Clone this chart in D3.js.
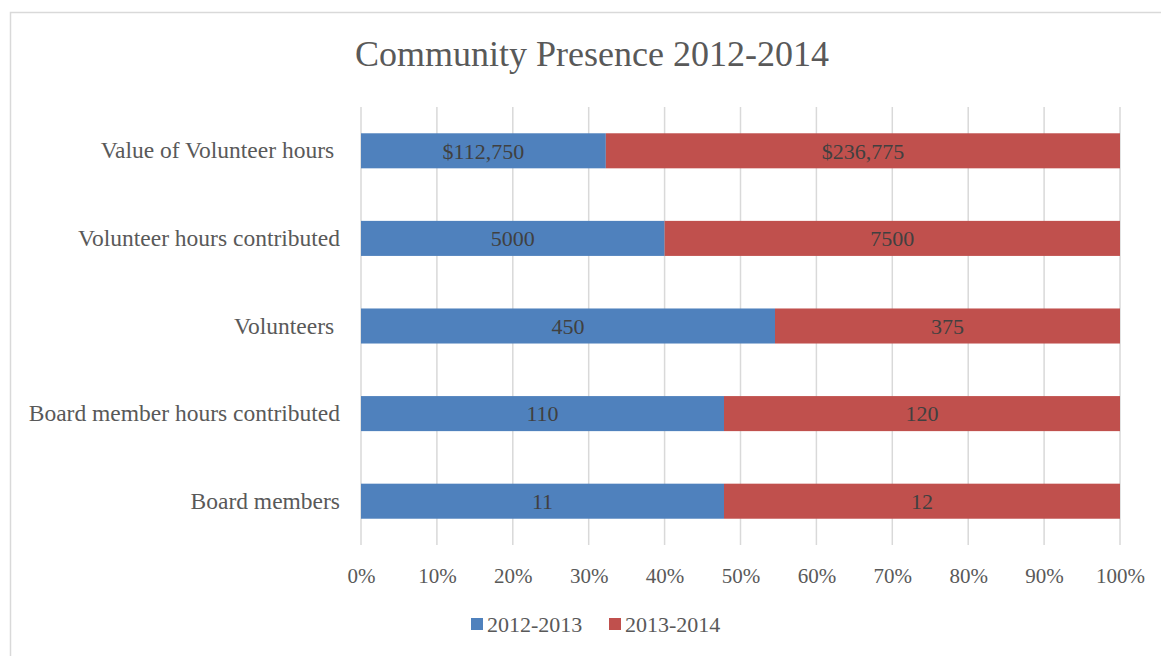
<!DOCTYPE html>
<html>
<head>
<meta charset="utf-8">
<script src="https://cdn.jsdelivr.net/npm/d3@7"></script>
<style>
  html, body { margin: 0; padding: 0; background: #fff; }
  svg { display: block; }
  text { font-family: "Liberation Serif", "Times New Roman", serif; }
</style>
</head>
<body>
<svg id="chart" width="1161" height="656"></svg>
<script>
// Categories, top to bottom (trailing spaces are part of the labels)
const categories = [
  "Value of Volunteer hours ",
  "Volunteer hours contributed",
  "Volunteers ",
  "Board member hours contributed",
  "Board members"
];
const seriesNames = ["2012-2013", "2013-2014"];
const values2012 = [112750, 5000, 450, 110, 11];
const values2013 = [236775, 7500, 375, 120, 12];
const labelFormats = ["$,", "d", "d", "d", "d"];
const tickValues = [0, 0.1, 0.2, 0.3, 0.4, 0.5, 0.6, 0.7, 0.8, 0.9, 1];
const colors = ["#4F81BD", "#C0504D"];

const svg = d3.select("#chart");

// Outer chart frame
svg.append("rect")
  .attr("x", 10.5).attr("y", 12.5)
  .attr("width", 1200).attr("height", 700)
  .attr("fill", "none").attr("stroke", "#d9d9d9").attr("stroke-width", 1.5);

const rows = categories.map((c, i) => ({
  category: c,
  [seriesNames[0]]: values2012[i],
  [seriesNames[1]]: values2013[i],
  fmt: labelFormats[i]
}));

const stacked = d3.stack()
  .keys(seriesNames)
  .offset(d3.stackOffsetExpand)(rows);

const x = d3.scaleLinear().domain([0, 1]).range([361, 1120]);
const y = d3.scaleBand()
  .domain(categories)
  .range([107, 545])
  .paddingInner(0.6)
  .paddingOuter(0.3);

// Vertical gridlines
svg.append("g")
  .selectAll("line")
  .data(tickValues)
  .join("line")
  .attr("x1", d => x(d)).attr("x2", d => x(d))
  .attr("y1", 107).attr("y2", 545)
  .attr("stroke", "#d9d9d9").attr("stroke-width", 1.5);

// Stacked bars
const layers = svg.append("g")
  .selectAll("g")
  .data(stacked)
  .join("g")
  .attr("fill", (d, i) => colors[i]);

layers.selectAll("rect")
  .data(d => d)
  .join("rect")
  .attr("x", d => x(d[0]))
  .attr("width", d => x(d[1]) - x(d[0]))
  .attr("y", d => y(d.data.category))
  .attr("height", y.bandwidth());

// Value labels centred in each segment
stacked.forEach(layer => {
  svg.append("g")
    .selectAll("text")
    .data(layer)
    .join("text")
    .attr("x", d => (x(d[0]) + x(d[1])) / 2)
    .attr("y", d => y(d.data.category) + y.bandwidth() / 2)
    .attr("dy", "0.35em")
    .attr("text-anchor", "middle")
    .attr("font-size", 22)
    .attr("fill", "#404040")
    .text(d => d3.format(d.data.fmt)(d.data[layer.key]));
});

// Category axis labels
const yAxis = d3.axisLeft(y).tickSize(0).tickPadding(21);
const gy = svg.append("g").attr("transform", "translate(361,0)").call(yAxis);
gy.select(".domain").remove();
gy.selectAll("text")
  .attr("font-size", 23.5)
  .attr("font-family", "Liberation Serif, serif")
  .attr("fill", "#595959")
  .style("white-space", "pre");

// Percentage axis labels
const xAxis = d3.axisBottom(x).tickValues(tickValues).tickFormat(d3.format(".0%")).tickSize(0).tickPadding(0);
const gx = svg.append("g").attr("transform", "translate(0,568)").call(xAxis);
gx.select(".domain").remove();
gx.selectAll("text")
  .attr("font-size", 21)
  .attr("font-family", "Liberation Serif, serif")
  .attr("fill", "#595959");

// Title
svg.append("text")
  .attr("x", 592).attr("y", 66)
  .attr("text-anchor", "middle")
  .attr("font-size", 36)
  .attr("fill", "#595959")
  .text("Community Presence 2012-2014");

// Legend
const legend = svg.append("g");
const legendX = [471, 609];
seriesNames.forEach((name, i) => {
  legend.append("rect")
    .attr("x", legendX[i]).attr("y", 618)
    .attr("width", 12).attr("height", 12)
    .attr("fill", colors[i]);
  legend.append("text")
    .attr("x", legendX[i] + 16).attr("y", 624)
    .attr("dy", "0.35em")
    .attr("font-size", 22)
    .attr("fill", "#595959")
    .text(name);
});
</script>
</body>
</html>
